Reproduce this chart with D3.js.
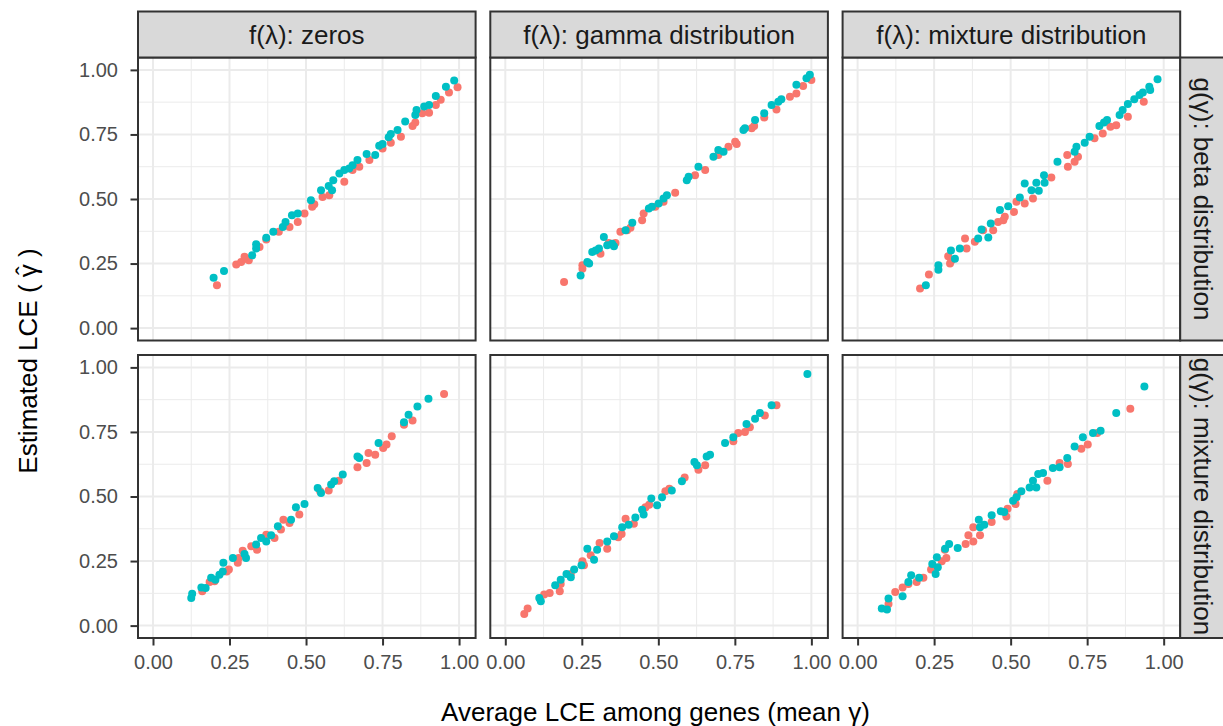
<!DOCTYPE html>
<html>
<head>
<meta charset="utf-8">
<script src="https://cdn.jsdelivr.net/npm/d3@7"></script>
<style>
  body { margin: 0; background: #fff; }
  text { font-family: "Liberation Sans", Arial, sans-serif; }
  .tick-label { fill: #4d4d4d; font-size: 20px; }
  .strip-label { fill: #1a1a1a; font-size: 26px; }
  .axis-title { fill: #000; font-size: 26px; }
</style>
</head>
<body>
<script>
const WIDTH = 1223;
const HEIGHT = 726;
const LEFT = 138;
const TOP = 57.5;
const PANEL_W = 337.6;
const PANEL_H = 283;
const GAP_X = 14.7;
const GAP_Y = 14.5;
const STRIP = 46;
const X_DOMAIN = [-0.049, 1.054];
const Y_DOMAIN = [-0.048, 1.048];
const COLORS = ['#F8766D', '#00BFC4'];

const colLabels = ['f(λ): zeros', 'f(λ): gamma distribution', 'f(λ): mixture distribution'];
const rowLabels = ['g(γ): beta distribution', 'g(γ): mixture distribution'];
const majorTicks = [0, 0.25, 0.5, 0.75, 1];
const minorTicks = [0.125, 0.375, 0.625, 0.875];
const tickLabels = ['0.00', '0.25', '0.50', '0.75', '1.00'];

// [mean gamma, estimated gamma] per panel and group
const zerosBetaRed = [[0.209,0.166],[0.272,0.246],[0.288,0.256],[0.304,0.269],[0.313,0.263],[0.299,0.276],[0.348,0.314],[0.37,0.343],[0.411,0.373],[0.446,0.392],[0.473,0.411],[0.495,0.444],[0.52,0.47],[0.527,0.48],[0.554,0.508],[0.576,0.515],[0.625,0.567],[0.652,0.612],[0.674,0.625],[0.707,0.651],[0.75,0.696],[0.777,0.718],[0.81,0.741],[0.848,0.783],[0.857,0.796],[0.88,0.832],[0.902,0.834],[0.924,0.864],[0.94,0.884],[0.967,0.912],[0.995,0.933]];
const zerosBetaTeal = [[0.198,0.195],[0.232,0.221],[0.324,0.282],[0.337,0.308],[0.337,0.325],[0.37,0.35],[0.393,0.373],[0.424,0.392],[0.433,0.411],[0.454,0.437],[0.473,0.444],[0.516,0.495],[0.549,0.534],[0.574,0.55],[0.585,0.534],[0.589,0.573],[0.609,0.599],[0.625,0.612],[0.641,0.618],[0.652,0.631],[0.668,0.651],[0.698,0.674],[0.726,0.67],[0.739,0.706],[0.75,0.713],[0.77,0.739],[0.777,0.752],[0.799,0.767],[0.824,0.8],[0.857,0.825],[0.861,0.845],[0.886,0.858],[0.902,0.864],[0.924,0.899],[0.957,0.935],[0.984,0.959]];
const gammaBetaRed = [[0.192,0.179],[0.252,0.243],[0.252,0.23],[0.311,0.288],[0.338,0.33],[0.36,0.33],[0.376,0.373],[0.398,0.379],[0.409,0.389],[0.447,0.418],[0.452,0.444],[0.49,0.47],[0.517,0.489],[0.555,0.524],[0.62,0.592],[0.653,0.612],[0.696,0.67],[0.729,0.702],[0.751,0.722],[0.756,0.713],[0.805,0.774],[0.813,0.783],[0.846,0.816],[0.886,0.847],[0.93,0.896],[0.951,0.909],[0.973,0.938],[1.0,0.961]];
const gammaBetaTeal = [[0.246,0.204],[0.268,0.256],[0.274,0.25],[0.284,0.295],[0.295,0.301],[0.306,0.308],[0.322,0.353],[0.333,0.321],[0.349,0.327],[0.355,0.317],[0.393,0.379],[0.415,0.408],[0.469,0.463],[0.479,0.47],[0.501,0.483],[0.517,0.502],[0.528,0.515],[0.593,0.573],[0.599,0.586],[0.631,0.625],[0.68,0.664],[0.696,0.69],[0.713,0.683],[0.778,0.767],[0.783,0.774],[0.816,0.806],[0.846,0.832],[0.87,0.864],[0.892,0.877],[0.902,0.886],[0.951,0.942],[0.984,0.968],[0.995,0.981]];
const mixtureBetaRed = [[0.204,0.153],[0.233,0.208],[0.296,0.278],[0.302,0.25],[0.307,0.263],[0.351,0.347],[0.356,0.308],[0.383,0.334],[0.41,0.379],[0.443,0.379],[0.459,0.411],[0.476,0.418],[0.481,0.431],[0.519,0.489],[0.511,0.45],[0.546,0.483],[0.573,0.502],[0.633,0.583],[0.685,0.67],[0.687,0.625],[0.709,0.644],[0.72,0.664],[0.774,0.735],[0.801,0.754],[0.826,0.78],[0.845,0.786],[0.883,0.819],[0.935,0.877]];
const mixtureBetaTeal = [[0.223,0.166],[0.264,0.243],[0.264,0.226],[0.305,0.301],[0.318,0.269],[0.334,0.308],[0.394,0.347],[0.405,0.382],[0.427,0.351],[0.435,0.405],[0.465,0.457],[0.492,0.472],[0.53,0.506],[0.546,0.56],[0.568,0.534],[0.584,0.563],[0.592,0.532],[0.609,0.592],[0.611,0.563],[0.653,0.644],[0.709,0.683],[0.715,0.702],[0.742,0.718],[0.758,0.741],[0.79,0.783],[0.805,0.796],[0.815,0.806],[0.856,0.825],[0.866,0.845],[0.883,0.868],[0.904,0.886],[0.921,0.903],[0.932,0.912],[0.953,0.935],[0.956,0.922],[0.98,0.964]];
const zerosMixRed = [[0.161,0.133],[0.185,0.169],[0.201,0.172],[0.241,0.21],[0.248,0.217],[0.277,0.243],[0.28,0.262],[0.293,0.29],[0.321,0.307],[0.34,0.294],[0.37,0.352],[0.397,0.339],[0.418,0.372],[0.426,0.41],[0.446,0.397],[0.478,0.43],[0.546,0.52],[0.574,0.523],[0.607,0.561],[0.668,0.613],[0.698,0.63],[0.704,0.668],[0.726,0.662],[0.752,0.688],[0.763,0.701],[0.78,0.733],[0.82,0.778],[0.848,0.794],[0.951,0.897]];
const zerosMixTeal = [[0.125,0.107],[0.128,0.123],[0.158,0.148],[0.172,0.146],[0.19,0.185],[0.204,0.178],[0.217,0.197],[0.228,0.21],[0.23,0.243],[0.261,0.262],[0.299,0.277],[0.304,0.262],[0.337,0.314],[0.353,0.339],[0.37,0.326],[0.386,0.35],[0.408,0.385],[0.451,0.41],[0.467,0.458],[0.495,0.471],[0.538,0.533],[0.549,0.514],[0.582,0.546],[0.592,0.559],[0.62,0.585],[0.668,0.655],[0.674,0.649],[0.737,0.707],[0.82,0.788],[0.835,0.817],[0.864,0.849],[0.9,0.879]];
const gammaMixRed = [[0.062,0.045],[0.073,0.066],[0.127,0.12],[0.145,0.126],[0.178,0.133],[0.181,0.161],[0.214,0.2],[0.252,0.249],[0.257,0.234],[0.279,0.272],[0.308,0.32],[0.333,0.298],[0.369,0.342],[0.38,0.355],[0.393,0.414],[0.42,0.394],[0.458,0.458],[0.47,0.468],[0.523,0.52],[0.536,0.53],[0.586,0.574],[0.631,0.604],[0.653,0.621],[0.745,0.714],[0.761,0.746],[0.783,0.75],[0.799,0.768],[0.848,0.814],[0.886,0.853]];
const gammaMixTeal = [[0.111,0.107],[0.116,0.094],[0.163,0.156],[0.181,0.178],[0.2,0.2],[0.214,0.187],[0.225,0.217],[0.249,0.234],[0.268,0.298],[0.29,0.255],[0.3,0.294],[0.333,0.326],[0.355,0.346],[0.382,0.381],[0.403,0.391],[0.425,0.419],[0.447,0.449],[0.452,0.43],[0.477,0.492],[0.496,0.466],[0.512,0.497],[0.544,0.523],[0.577,0.559],[0.618,0.634],[0.626,0.621],[0.658,0.655],[0.669,0.662],[0.718,0.707],[0.745,0.729],[0.788,0.781],[0.816,0.801],[0.832,0.823],[0.87,0.853],[0.987,0.974]];
const mixtureMixRed = [[0.101,0.084],[0.123,0.13],[0.147,0.148],[0.166,0.161],[0.193,0.169],[0.215,0.185],[0.24,0.217],[0.275,0.249],[0.29,0.262],[0.285,0.294],[0.353,0.316],[0.362,0.35],[0.378,0.326],[0.378,0.381],[0.4,0.35],[0.438,0.401],[0.486,0.423],[0.49,0.453],[0.516,0.471],[0.522,0.51],[0.62,0.561],[0.66,0.63],[0.687,0.626],[0.731,0.685],[0.752,0.701],[0.783,0.746],[0.891,0.84]];
const mixtureMixTeal = [[0.079,0.066],[0.096,0.062],[0.101,0.105],[0.147,0.114],[0.166,0.169],[0.175,0.195],[0.201,0.185],[0.244,0.239],[0.255,0.2],[0.262,0.226],[0.259,0.265],[0.286,0.298],[0.299,0.316],[0.327,0.301],[0.396,0.41],[0.4,0.381],[0.414,0.391],[0.438,0.427],[0.468,0.443],[0.479,0.44],[0.508,0.484],[0.519,0.497],[0.535,0.52],[0.562,0.535],[0.573,0.561],[0.584,0.535],[0.59,0.587],[0.606,0.591],[0.638,0.61],[0.66,0.613],[0.685,0.649],[0.709,0.694],[0.736,0.729],[0.769,0.746],[0.794,0.755],[0.845,0.823],[0.937,0.926]];

const panels = [
  { row: 0, col: 0, series: [zerosBetaRed, zerosBetaTeal] },
  { row: 0, col: 1, series: [gammaBetaRed, gammaBetaTeal] },
  { row: 0, col: 2, series: [mixtureBetaRed, mixtureBetaTeal] },
  { row: 1, col: 0, series: [zerosMixRed, zerosMixTeal] },
  { row: 1, col: 1, series: [gammaMixRed, gammaMixTeal] },
  { row: 1, col: 2, series: [mixtureMixRed, mixtureMixTeal] },
];

const panelX = (c) => LEFT + c * (PANEL_W + GAP_X);
const panelY = (r) => TOP + r * (PANEL_H + GAP_Y);

const svg = d3.select('body')
  .append('svg')
  .attr('width', WIDTH)
  .attr('height', HEIGHT);

const defs = svg.append('defs');

const styleAxis = (ax) => {
  ax.select('.domain').remove();
  ax.selectAll('line').attr('stroke', '#333333').attr('stroke-width', 2);
  ax.selectAll('text')
    .attr('class', 'tick-label')
    .attr('font-family', null).attr('font-size', null).attr('fill', null);
};

panels.forEach((p) => {
  const px = panelX(p.col);
  const py = panelY(p.row);
  const x = d3.scaleLinear().domain(X_DOMAIN).range([px, px + PANEL_W]);
  const y = d3.scaleLinear().domain(Y_DOMAIN).range([py + PANEL_H, py]);
  const g = svg.append('g').attr('class', 'panel');

  // minor then major grid
  g.selectAll('line.vminor')
    .data(minorTicks)
    .enter()
      .append('line')
      .attr('x1', (d) => x(d)).attr('x2', (d) => x(d))
      .attr('y1', py).attr('y2', py + PANEL_H)
      .attr('stroke', '#ebebeb').attr('stroke-width', 1);
  g.selectAll('line.hminor')
    .data(minorTicks)
    .enter()
      .append('line')
      .attr('x1', px).attr('x2', px + PANEL_W)
      .attr('y1', (d) => y(d)).attr('y2', (d) => y(d))
      .attr('stroke', '#ebebeb').attr('stroke-width', 1);
  g.selectAll('line.vmajor')
    .data(majorTicks)
    .enter()
      .append('line')
      .attr('x1', (d) => x(d)).attr('x2', (d) => x(d))
      .attr('y1', py).attr('y2', py + PANEL_H)
      .attr('stroke', '#ebebeb').attr('stroke-width', 2);
  g.selectAll('line.hmajor')
    .data(majorTicks)
    .enter()
      .append('line')
      .attr('x1', px).attr('x2', px + PANEL_W)
      .attr('y1', (d) => y(d)).attr('y2', (d) => y(d))
      .attr('stroke', '#ebebeb').attr('stroke-width', 2);

  p.series.forEach((pts, i) => {
    g.append('g')
      .selectAll('circle')
      .data(pts)
      .enter()
        .append('circle')
        .attr('cx', (d) => x(d[0]))
        .attr('cy', (d) => y(d[1]))
        .attr('r', 4)
        .attr('fill', COLORS[i]);
  });

  g.append('rect')
    .attr('x', px).attr('y', py)
    .attr('width', PANEL_W).attr('height', PANEL_H)
    .attr('fill', 'none')
    .attr('stroke', '#333333')
    .attr('stroke-width', 2);

  // left axis on first column
  if (p.col === 0) {
    const yAxis = d3.axisLeft(y)
      .tickValues(majorTicks)
      .tickSize(6.5)
      .tickPadding(12.5)
      .tickFormat((d, i) => tickLabels[i]);
    svg.append('g')
      .attr('transform', `translate(${px - 1},0)`)
      .call(yAxis)
      .call(styleAxis);
  }
  // bottom axis on last row
  if (p.row === 1) {
    const xAxis = d3.axisBottom(x)
      .tickValues(majorTicks)
      .tickSize(6.5)
      .tickPadding(9.5)
      .tickFormat((d, i) => tickLabels[i]);
    svg.append('g')
      .attr('transform', `translate(0,${py + PANEL_H + 1})`)
      .call(xAxis)
      .call(styleAxis);
  }
});

// top strips
colLabels.forEach((label, c) => {
  const px = panelX(c);
  const id = `clip-col-${c}`;
  defs.append('clipPath').attr('id', id)
    .append('rect')
    .attr('x', px).attr('y', TOP - STRIP)
    .attr('width', PANEL_W).attr('height', STRIP);
  const strip = svg.append('g');
  strip.append('rect')
    .attr('x', px).attr('y', TOP - STRIP)
    .attr('width', PANEL_W).attr('height', STRIP)
    .attr('fill', '#d9d9d9')
    .attr('stroke', '#333333')
    .attr('stroke-width', 2);
  strip.append('text')
    .attr('class', 'strip-label')
    .attr('clip-path', `url(#${id})`)
    .attr('x', px + PANEL_W / 2)
    .attr('y', TOP - STRIP / 2)
    .attr('dy', '0.35em')
    .attr('text-anchor', 'middle')
    .text(label);
});

// right strips (text clipped like ggplot does)
rowLabels.forEach((label, r) => {
  const py = panelY(r);
  const sx = panelX(2) + PANEL_W;
  const id = `clip-row-${r}`;
  defs.append('clipPath').attr('id', id)
    .append('rect')
    .attr('x', sx).attr('y', py)
    .attr('width', STRIP).attr('height', PANEL_H);
  const strip = svg.append('g');
  strip.append('rect')
    .attr('x', sx).attr('y', py)
    .attr('width', STRIP).attr('height', PANEL_H)
    .attr('fill', '#d9d9d9')
    .attr('stroke', '#333333')
    .attr('stroke-width', 2);
  strip.append('g')
    .attr('clip-path', `url(#${id})`)
    .append('text')
    .attr('class', 'strip-label')
    .attr('transform', `translate(${sx + STRIP / 2},${py + PANEL_H / 2}) rotate(90)`)
    .attr('dy', '0.35em')
    .attr('text-anchor', 'middle')
    .text(label);
});

// axis titles
svg.append('text')
  .attr('class', 'axis-title')
  .attr('x', 655.5)
  .attr('y', 720.5)
  .attr('text-anchor', 'middle')
  .text('Average LCE among genes (mean γ)');

const yTitle = svg.append('g')
  .attr('transform', 'translate(37,361) rotate(-90)');
const yTitleText = yTitle.append('text')
  .attr('class', 'axis-title')
  .attr('text-anchor', 'middle')
  .text('Estimated LCE ( γ )');
// hat over gamma
const titleStr = 'Estimated LCE ( γ )';
const gi = titleStr.indexOf('γ');
const node = yTitleText.node();
const gStart = node.getStartPositionOfChar(gi).x;
const gEnd = node.getEndPositionOfChar(gi).x;
yTitle.append('text')
  .attr('class', 'axis-title')
  .attr('x', (gStart + gEnd) / 2)
  .attr('y', -3)
  .attr('text-anchor', 'middle')
  .text('\u02C6');
</script>
</body>
</html>
